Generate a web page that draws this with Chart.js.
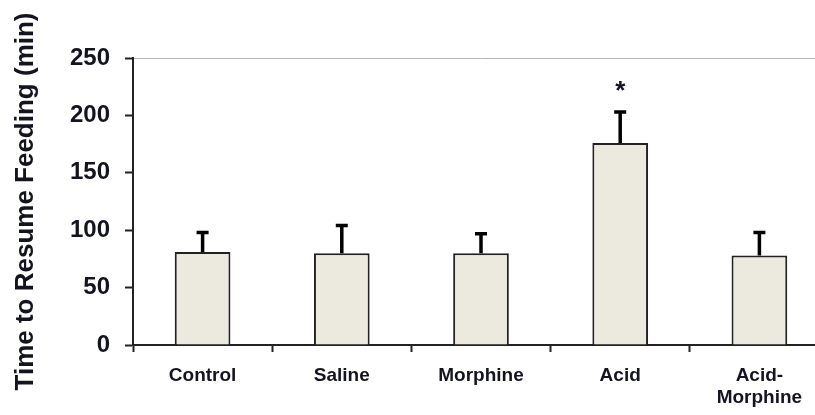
<!DOCTYPE html>
<html>
<head>
<meta charset="utf-8">
<script src="https://cdn.jsdelivr.net/npm/chart.js@4"></script>
<style>
  html, body { margin: 0; padding: 0; background: #fff; overflow: hidden; }
  #wrap { width: 830px; height: 415px; }
</style>
</head>
<body>
<div id="wrap"><canvas id="feedingChart"></canvas></div>
<script>
// Data
const groups = ['Control', 'Saline', 'Morphine', 'Acid', ['Acid-', 'Morphine']];
const meanTimes = [81, 80, 80, 176, 78];
const errorUp = [17, 24, 17, 27, 20];
const sigMarks = ['', '', '', '*', ''];
const yTicks = [0, 50, 100, 150, 200, 250];

const fontFamily = "'Liberation Sans', Arial, sans-serif";
const ink = '#141420';

// Draws the upper error bars and the significance star
const errorBarPlugin = {
    id: 'errorBars',
    afterDatasetsDraw(chart) {
        const ctx = chart.ctx;
        const yScale = chart.scales.y;
        const meta = chart.getDatasetMeta(0);
        ctx.save();
        ctx.strokeStyle = '#000';
        ctx.lineWidth = 3.5;
        meta.data.forEach((bar, i) => {
            const top = yScale.getPixelForValue(meanTimes[i] + errorUp[i]);
            ctx.beginPath();
            ctx.moveTo(bar.x, bar.y);
            ctx.lineTo(bar.x, top);
            ctx.moveTo(bar.x - 6, top);
            ctx.lineTo(bar.x + 6, top);
            ctx.stroke();
            if (sigMarks[i]) {
                ctx.fillStyle = ink;
                ctx.font = 'bold 26px ' + fontFamily;
                ctx.textAlign = 'center';
                ctx.textBaseline = 'middle';
                ctx.fillText(sigMarks[i], bar.x, top - 20);
            }
        });
        ctx.restore();
    }
};

const ctx = document.getElementById('feedingChart').getContext('2d');
new Chart(ctx, {
    type: 'bar',
    data: {
        labels: groups,
        datasets: [{
            data: meanTimes,
            backgroundColor: '#ece9df',
            borderColor: '#222',
            borderWidth: 2,
            borderSkipped: 'bottom',
            barPercentage: 0.4,
            categoryPercentage: 1
        }]
    },
    options: {
        responsive: true,
        maintainAspectRatio: false,
        animation: false,
        layout: { padding: { top: 58, right: 1, left: 0, bottom: 0 } },
        plugins: {
            legend: { display: false },
            tooltip: { enabled: false }
        },
        scales: {
            x: {
                offset: true,
                grid: {
                    offset: true,
                    color: 'transparent',
                    tickColor: '#222',
                    tickLength: 7,
                    tickWidth: 2
                },
                border: { color: '#222', width: 2 },
                ticks: {
                    color: ink,
                    padding: 13,
                    font: { family: fontFamily, size: 19, weight: 'bold', lineHeight: 1.15 }
                },
                afterFit(scale) { scale.height = 70; }
            },
            y: {
                min: 0,
                max: 250,
                afterBuildTicks(scale) { scale.ticks = yTicks.map(v => ({ value: v })); },
                grid: {
                    color: c => (c.tick && c.tick.value === 250 ? '#b4b4b4' : 'transparent'),
                    tickColor: '#222',
                    tickLength: 8,
                    tickWidth: 2
                },
                border: { color: '#222', width: 2 },
                ticks: {
                    color: ink,
                    padding: 15,
                    font: { family: fontFamily, size: 24, weight: 'bold' }
                },
                title: {
                    display: true,
                    text: 'Time to Resume Feeding (min)',
                    color: ink,
                    padding: { top: 10, bottom: 2 },
                    font: { family: fontFamily, size: 26, weight: 'bold' }
                },
                afterFit(scale) { scale.width = 133; }
            }
        }
    },
    plugins: [errorBarPlugin]
});
</script>
</body>
</html>
